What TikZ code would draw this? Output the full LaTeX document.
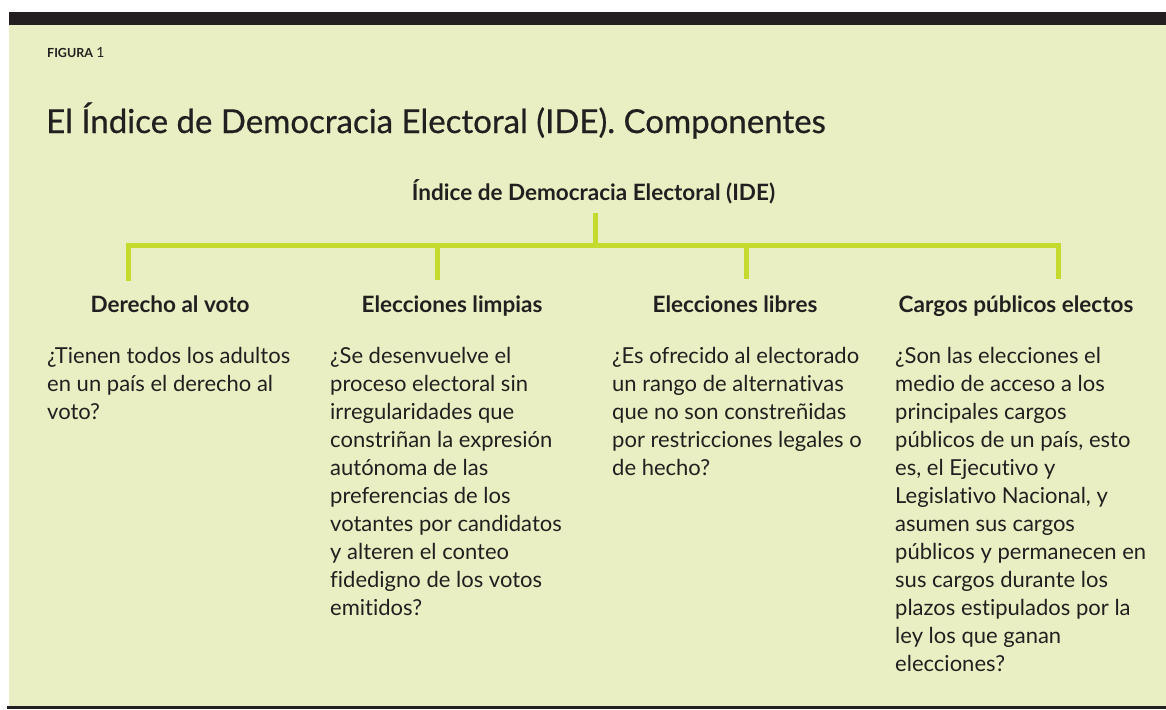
\documentclass[tikz,border=0pt]{standalone}
\usepackage{fontspec}
\setmainfont{Lato}[Ligatures=NoCommon]
\newfontfamily\titlefont{Lato}[Ligatures=NoCommon,FakeBold=0.6]
\definecolor{bg}{RGB}{233,239,194}
\definecolor{barc}{RGB}{35,31,32}
\definecolor{ink}{RGB}{35,31,32}
\definecolor{lime}{RGB}{196,219,46}
\tikzset{
  body/.style={font=\fontsize{22}{28}\selectfont, align=left, inner sep=0pt, text=ink, anchor=north west},
  head/.style={font=\fontsize{22.5}{26}\selectfont\bfseries, inner sep=0pt, text=ink, anchor=base},
  link/.style={draw=lime, line width=5pt}
}
\begin{document}
\begin{tikzpicture}[x=1pt,y=-1pt]
\useasboundingbox (0,0) rectangle (1166,709);
\fill[white] (0,0) rectangle (1166,709);
\fill[bg] (9,25) rectangle (1166,706);
\fill[barc] (9,12) rectangle (1166,25);
\fill[barc] (7,706) rectangle (1166,709);

\node[inner sep=0pt, anchor=base west, text=ink, font=\fontsize{12.5}{15}\selectfont] (fig) at (47,57.3) {\textbf{FIGURA} {\fontsize{14}{15}\selectfont 1}};
\node[inner sep=0pt, anchor=base west, text=ink, font=\fontsize{33}{39}\titlefont] (title) at (46,133) {El Índice de Democracia Electoral (IDE). Componentes};

\node[head] (root) at (593.5,200.7) {Índice de Democracia Electoral (IDE)};

\coordinate (top) at (595,212.7);
\coordinate (hub) at (595,245);
\coordinate (t1) at (128,245);
\coordinate (t2) at (437.5,245);
\coordinate (t3) at (746.5,245);
\coordinate (t4) at (1058.5,245);
\coordinate (s1) at (128,280.5);
\coordinate (s2) at (437.5,279.5);
\coordinate (s3) at (746.5,278.5);
\coordinate (s4) at (1058.5,278.5);

\draw[link] (top) -- (hub);
\draw[link, line join=miter] (s1) -- (t1) -- (t4) -- (s4);
\draw[link] (t2) -- (s2);
\draw[link] (t3) -- (s3);

\node[head] (h1) at (170,312) {Derecho al voto};
\node[head] (h2) at (452,312) {Elecciones limpias};
\node[head] (h3) at (735,312) {Elecciones libres};
\node[head] (h4) at (1016,312) {Cargos públicos electos};

\node[body] (b1) at (47,343.4) {\strut ¿Tienen todos los adultos\\en un país el derecho al\\voto?};
\node[body] (b2) at (330,343.4) {\strut ¿Se desenvuelve el\\proceso electoral sin\\irregularidades que\\constriñan la expresión\\autónoma de las\\preferencias de los\\votantes por candidatos\\y alteren el conteo\\fidedigno de los votos\\emitidos?};
\node[body] (b3) at (612,343.4) {\strut ¿Es ofrecido al electorado\\un rango de alternativas\\que no son constreñidas\\por restricciones legales o\\de hecho?};
\node[body] (b4) at (895,343.4) {\strut ¿Son las elecciones el\\medio de acceso a los\\principales cargos\\públicos de un país, esto\\es, el Ejecutivo y\\Legislativo Nacional, y\\asumen sus cargos\\públicos y permanecen en\\sus cargos durante los\\plazos estipulados por la\\ley los que ganan\\elecciones?};
\end{tikzpicture}
\end{document}
